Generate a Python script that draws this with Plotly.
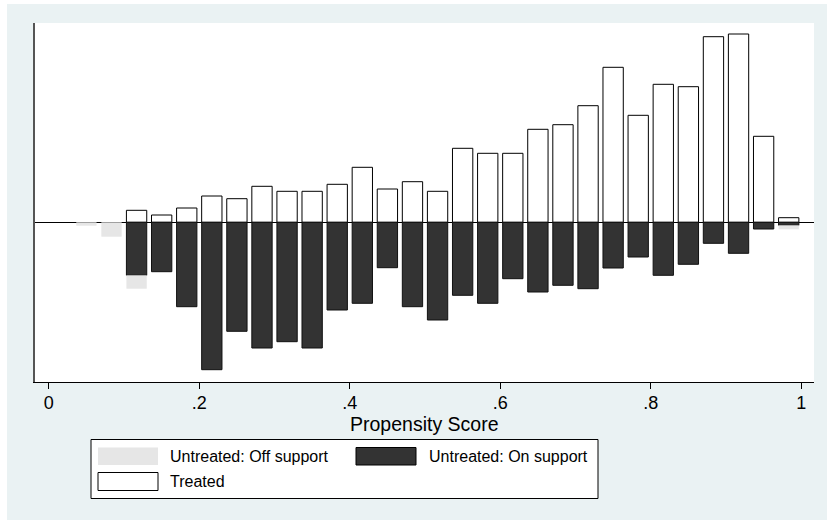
import plotly.graph_objects as go

# Propensity-score bins: 30 equal-width bins on [0, 1], bins 1..29 are populated
bin_index = list(range(1, 30))
bin_centers = [(k + 0.5) / 30 for k in bin_index]

# Frequencies per bin (treated drawn upward, untreated drawn downward)
treated = [None, None, 12.0, 7.3, 14.3, 26.3, 23.6, 36.0, 31.0, 31.0, 38.0, 55.0, 33.3,
           40.6, 31.0, 74.0, 69.0, 69.0, 93.0, 97.6, 116.6, 155.0, 107.0, 138.0,
           135.6, 185.6, 188.3, 86.0, 4.6]
untreated_on = [None, None, 53.0, 49.4, 84.4, 147.4, 109.0, 125.7, 119.4, 125.7, 87.7,
                81.0, 45.4, 84.4, 97.7, 73.0, 81.0, 56.4, 69.7, 63.0, 66.4, 45.7, 34.7,
                53.0, 42.0, 21.0, 31.0, 6.7, 3.0]
untreated_off = [3.4, 14.4, 13.4] + [None] * 25 + [4.0]

tick_vals = [0, 0.2, 0.4, 0.6, 0.8, 1.0]
tick_text = ["0", ".2", ".4", ".6", ".8", "1"]

x_title = "Propensity Score"
legend_labels = ["Untreated: Off support", "Untreated: On support", "Treated"]

BG = "#eaf2f3"
DARK = "#333333"
LIGHT = "#e6e6e6"
FONT = "Liberation Sans, Arial, sans-serif"

W, H = 827, 520
ML, MR, MT, MB = 35, 13, 23, 138
PW, PH = W - ML - MR, H - MT - MB


def px(x):
    return (x - ML) / PW


def py(y):
    return (H - MB - y) / PH


def neg(vals):
    return [None if v is None else -v for v in vals]


bar_w = 0.027

fig = go.Figure()
fig.add_bar(x=bin_centers, y=treated, width=bar_w, name=legend_labels[2],
            marker=dict(color="white", line=dict(color="black", width=1)))
fig.add_bar(x=bin_centers, y=neg(untreated_on), width=bar_w, name=legend_labels[1],
            marker=dict(color=DARK, line=dict(color="#111111", width=1)))
fig.add_bar(x=bin_centers, y=neg(untreated_off), width=bar_w, name=legend_labels[0],
            marker=dict(color=LIGHT, line=dict(width=0)))

shapes = [
    # graph region
    dict(type="rect", xref="paper", yref="paper", x0=px(7), x1=px(830), y0=py(4), y1=py(525),
         fillcolor=BG, line=dict(width=0), layer="below"),
    # plot region
    dict(type="rect", xref="paper", yref="paper", x0=0, x1=1, y0=0, y1=1,
         fillcolor="white", line=dict(width=0), layer="below"),
    # legend frame
    dict(type="rect", xref="paper", yref="paper", x0=px(91), x1=px(598), y0=py(439.5),
         y1=py(498.5), fillcolor="white", line=dict(color="black", width=1)),
    # legend keys
    dict(type="rect", xref="paper", yref="paper", x0=px(98), x1=px(158), y0=py(447.5),
         y1=py(465), fillcolor=LIGHT, line=dict(width=0)),
    dict(type="rect", xref="paper", yref="paper", x0=px(356), x1=px(416), y0=py(447.5),
         y1=py(465), fillcolor=DARK, line=dict(color="black", width=1)),
    dict(type="rect", xref="paper", yref="paper", x0=px(98), x1=px(158), y0=py(472.5),
         y1=py(490.5), fillcolor="white", line=dict(color="black", width=1)),
]

annotations = [
    dict(text=legend_labels[0], x=px(168), y=py(456), xanchor="left", font_size=16),
    dict(text=legend_labels[1], x=px(426.5), y=py(456), xanchor="left", font_size=16),
    dict(text=legend_labels[2], x=px(168), y=py(481.5), xanchor="left", font_size=16),
    # x-axis title, set tight under the tick labels
    dict(text=x_title, x=0.5, y=py(423.5), xanchor="center", font_size=19.5),
]
for a in annotations:
    a.update(xref="paper", yref="paper", yanchor="middle", showarrow=False)
    a["font"] = dict(family=FONT, size=a.pop("font_size"), color="black")

fig.update_layout(
    width=W, height=H,
    margin=dict(l=ML, r=MR, t=MT, b=MB),
    barmode="relative",
    showlegend=False,
    paper_bgcolor="white",
    plot_bgcolor="rgba(0,0,0,0)",
    font=dict(family=FONT, color="black"),
    shapes=shapes,
    annotations=annotations,
    xaxis=dict(
        range=[-0.01833, 1.01695],
        tickvals=tick_vals, ticktext=tick_text,
        ticks="outside", ticklen=6, tickwidth=1, tickcolor="black",
        tickfont=dict(size=18, family=FONT, color="black"),
        ticklabelstandoff=-2,
        showline=True, linecolor="black", linewidth=1,
        showgrid=False, zeroline=False,
    ),
    yaxis=dict(
        range=[-159.7, 199.3],
        showticklabels=False, ticks="",
        showline=True, linecolor="#555555", linewidth=1.5,
        showgrid=False,
        zeroline=True, zerolinecolor="black", zerolinewidth=1,
    ),
)

fig.write_html("out.html")
